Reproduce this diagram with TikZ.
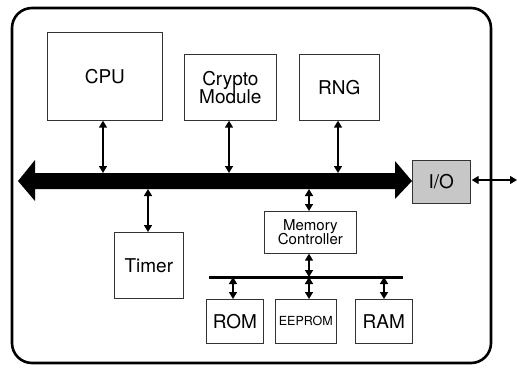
\documentclass[tikz,border=0pt]{standalone}
\usepackage{fontspec}
\setmainfont{TeX Gyre Heros}
\usetikzlibrary{arrows.meta}
\begin{document}
\begin{tikzpicture}[x=1pt,y=-1pt,
  block/.style={draw=black!80,line width=0.7pt,fill=white,inner sep=0pt,anchor=north west,align=center},
  link/.style={line width=1.5pt,{Triangle[length=7pt,width=8pt]}-{Triangle[length=7pt,width=8pt]}},
  lbl/.style={font=\fontsize{19}{21}\selectfont}]
\useasboundingbox (0,0) rectangle (517,367);
% chip outline
\draw[line width=2.6pt,rounded corners=20pt] (12,8) rectangle (491,363);
% main bus
\fill (18,181) -- (35,160) -- (35,173) -- (395,173) -- (395,161) -- (412,181)
  -- (395,199) -- (395,189) -- (35,189) -- (35,201) -- cycle;
% blocks on the bus
\node[block,minimum width=115pt,minimum height=88pt,lbl] (cpu) at (47,32) {CPU};
\node[block,minimum width=92pt,minimum height=66pt,lbl] (crypto) at (184,54) {Crypto\\[-3pt]Module};
\node[block,minimum width=80pt,minimum height=66pt,lbl] (rng) at (299,54) {RNG};
\node[block,minimum width=69pt,minimum height=66pt,lbl] (timer) at (114,232) {Timer};
\node[block,fill=black!22,minimum width=58pt,minimum height=43pt,lbl] (io) at (412,160) {I/O};
\node[block,minimum width=92pt,minimum height=42pt,font=\fontsize{15}{16}\selectfont] (mc) at (264,211) {Memory\\[-2pt]Controller};
% memory blocks
\node[block,minimum width=57pt,minimum height=44pt,lbl] (rom) at (206,299) {ROM};
\node[block,minimum width=61pt,minimum height=44pt,font=\fontsize{12.5}{14}\selectfont] (eeprom) at (275,299) {EEPROM};
\node[block,minimum width=57pt,minimum height=44pt,lbl] (ram) at (355,299) {RAM};
% memory bus
\draw[line width=3pt] (209,277) -- (403,277);
\coordinate (bt1) at (103,173);
\coordinate (bt2) at (229,173);
\coordinate (bt3) at (338,173);
\coordinate (bb1) at (148,189);
\coordinate (bb2) at (309,189);
\coordinate (m1) at (233,277);
\coordinate (m2) at (309,277);
\coordinate (m3) at (384,277);
\coordinate (ext) at (517,180);
% connections
\draw[link] (cpu.south -| bt1) -- (bt1);
\draw[link] (crypto.south -| bt2) -- (bt2);
\draw[link] (rng.south -| bt3) -- (bt3);
\draw[link] (bb1) -- (timer.north -| bb1);
\draw[link] (bb2) -- (mc.north -| bb2);
\draw[link] (mc.south -| m2) -- (m2);
\draw[link] (m1) -- (rom.north -| m1);
\draw[link] (m2) -- (eeprom.north -| m2);
\draw[link] (m3) -- (ram.north -| m3);
\draw[link,line width=1.3pt] (io.east |- ext) ++(1,0) -- (ext);
\end{tikzpicture}
\end{document}
